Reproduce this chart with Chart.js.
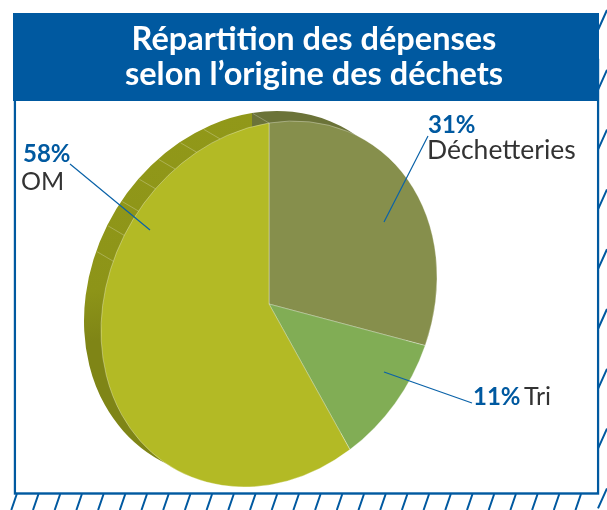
<!DOCTYPE html>
<html lang="fr">
<head>
<meta charset="utf-8">
<style>html,body{margin:0;padding:0;background:#fff}canvas{display:block}</style>
<script src="https://cdn.jsdelivr.net/npm/chart.js@4"></script>
</head>
<body>
<canvas id="c" width="607" height="510"></canvas>
<script>
const titleLines = ["Répartition des dépenses", "selon l’origine des déchets"];
const categories = ["Déchetteries", "Tri", "OM"];
const values = [31, 11, 58];

const BLUE = "#0059a0";
const faceColors = ["#868f4c", "#81ad55", "#b3ba25"];
const FONT = "Lato, sans-serif";

// Tilted-pie projection: unit circle -> screen (affine), depth extruded up-left
const proj = {cx: 269, cy: 304, ax: 168, ay: -27, bx: 0, by: -181};
const depth = {x: -17, y: -10};

function applyProjection(ctx, chart, dx, dy) {
  const a = chart.getDatasetMeta(0).data[0];
  const R = a.outerRadius;
  ctx.translate(proj.cx + dx, proj.cy + dy);
  ctx.transform(proj.ax / R, proj.ay / R, -proj.bx / R, -proj.by / R, 0, 0);
  ctx.translate(-a.x, -a.y);
}

const tiltedPie = {
  id: "tiltedPie",
  beforeDatasetsDraw(chart) {
    const ctx = chart.ctx;
    // panel
    ctx.save();
    ctx.strokeStyle = BLUE;
    ctx.lineWidth = 2;
    ctx.beginPath();
    for (let y = 30; y < 520; y += 59.8) { ctx.moveTo(598, y); ctx.lineTo(607, y - 20); }
    for (let x = 16.8; x < 590; x += 21.7) { ctx.moveTo(x, 494); ctx.lineTo(x - 5.5, 510); }
    ctx.stroke();
    ctx.lineWidth = 2.4;
    ctx.strokeRect(15, 60, 583, 433.5);
    ctx.fillStyle = BLUE;
    ctx.fillRect(13, 13, 586, 88);
    ctx.fillStyle = "#fff";
    ctx.fillRect(16.2, 101, 580.6, 391);
    ctx.fillStyle = "#fff";
    ctx.textAlign = "center";
    ctx.textBaseline = "alphabetic";
    ctx.font = "bold 32.5px " + FONT;
    ctx.fillText(titleLines[0], 314, 50);
    ctx.fillText(titleLines[1], 314, 85);
    ctx.restore();

    // depth layer: the same arcs, shifted and darker
    const arcs = chart.getDatasetMeta(0).data;
    const g = ctx.createLinearGradient(0, 0, 0, 510);
    g.addColorStop(0, "#919819");
    g.addColorStop(0.42, "#8d9418");
    g.addColorStop(0.56, "#7f8516");
    g.addColorStop(1, "#7f8516");
    const sideColors = ["#6b7338", "#5f8038", g];
    ctx.save();
    applyProjection(ctx, chart, depth.x, depth.y);
    arcs.forEach((arc, i) => {
      const o = arc.options;
      arc.options = Object.assign({}, o, {backgroundColor: sideColors[i], borderWidth: 0});
      arc.draw(ctx);
      arc.options = o;
    });
    ctx.restore();

    // front layer: the library's own draw, under the projection
    ctx.save();
    applyProjection(ctx, chart, 0, 0);
  },
  afterDatasetsDraw(chart) {
    const ctx = chart.ctx;
    ctx.restore();

    // facet lines on the side wall
    ctx.save();
    ctx.strokeStyle = "rgba(255,255,255,0.25)";
    ctx.lineWidth = 1;
    ctx.beginPath();
    for (let k = 0; k < 8; k++) {
      if (k === 1) continue;
      const t = (-8.5 * k) * Math.PI / 180;
      const x = proj.cx + proj.ax * Math.sin(t) + proj.bx * Math.cos(t);
      const y = proj.cy + proj.ay * Math.sin(t) + proj.by * Math.cos(t);
      ctx.moveTo(x, y);
      ctx.lineTo(x + depth.x * 0.95, y + depth.y * 0.95);
    }
    for (let k = 8; k < 9; k++) {
      const t = (-8.5 * k) * Math.PI / 180;
      const x = proj.cx + proj.ax * Math.sin(t) + proj.bx * Math.cos(t);
      const y = proj.cy + proj.ay * Math.sin(t) + proj.by * Math.cos(t);
      ctx.moveTo(x, y);
      ctx.lineTo(x + depth.x * 0.95, y + depth.y * 0.95);
    }
    ctx.stroke();

    // leader lines
    ctx.strokeStyle = "#0a62a8";
    ctx.lineWidth = 1.2;
    ctx.beginPath();
    ctx.moveTo(428, 136); ctx.lineTo(384, 222);
    ctx.moveTo(70, 164); ctx.lineTo(150, 230);
    ctx.moveTo(384, 372); ctx.lineTo(472, 403);
    ctx.stroke();

    // labels
    ctx.textAlign = "left";
    ctx.textBaseline = "alphabetic";
    const pct = i => values[i] + "%";
    ctx.font = "bold 24px " + FONT;
    ctx.fillStyle = BLUE;
    ctx.fillText(pct(0), 428, 133);
    ctx.fillText(pct(1), 473, 405);
    ctx.fillText(pct(2), 23, 162);
    ctx.font = "26.5px " + FONT;
    ctx.fillStyle = "#333333";
    ctx.fillText(categories[0], 427, 159);
    ctx.font = "25px " + FONT;
    ctx.fillText(categories[1], 524, 405);
    ctx.fillText(categories[2], 21, 190);
    ctx.restore();
  }
};

new Chart(document.getElementById("c"), {
  type: "pie",
  data: {
    labels: categories,
    datasets: [{
      data: values,
      backgroundColor: faceColors,
      borderColor: "rgba(255,255,255,0.45)",
      borderWidth: 1,
      clip: false
    }]
  },
  options: {
    responsive: false,
    animation: false,
    rotation: 0,
    plugins: {legend: {display: false}, tooltip: {enabled: false}, title: {display: false}}
  },
  plugins: [tiltedPie]
});
</script>
</body>
</html>
